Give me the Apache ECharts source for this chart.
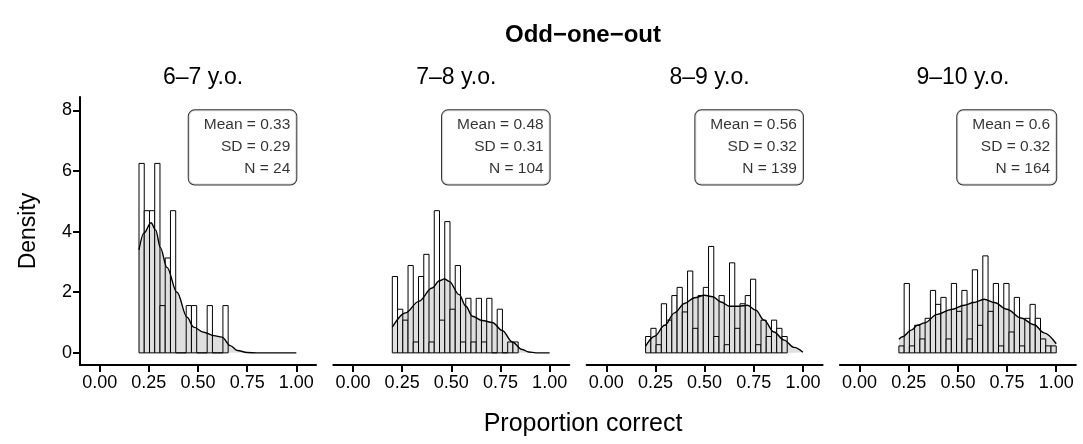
<!DOCTYPE html>
<html>
<head>
<meta charset="utf-8">
<script src="https://cdn.jsdelivr.net/npm/echarts@6/dist/echarts.min.js"></script>
<style>
  html, body { margin: 0; background: #fff; }
  #main { width: 1083px; height: 444px; }
</style>
</head>
<body>
<div id="main"></div>
<script>
// facets
var ageGroups = ['6–7 y.o.', '7–8 y.o.', '8–9 y.o.', '9–10 y.o.'];

// histogram: 30 bins of equal width starting at 0.2 (density per bin)
var binStart = 0.2;
var binWidth = 0.8 / 30;
var hist6 = [6.25, 4.69, 4.69, 6.25, 1.56, 3.13, 4.69, 0, 0, 1.56, 1.56, 0, 0, 1.56, 0, 0, 1.56];
var hist7 = [2.52, 1.44, 1.08, 2.88, 0.36, 2.52, 3.25, 0.36, 4.69, 1.08, 4.33, 1.44, 2.88, 0.36,
  1.80, 0.36, 1.80, 0.36, 1.80, 0, 1.44, 0, 0.36, 0.36];
var hist8 = [0.54, 0.81, 0.27, 1.62, 1.08, 1.89, 2.16, 1.35, 2.70, 0.81, 1.89, 2.16, 3.51, 0.54,
  1.89, 0.27, 2.97, 0.81, 1.62, 1.89, 2.43, 0.27, 1.08, 0.54, 1.08, 0.81, 0.54];
var hist9 = [0.23, 2.29, 0.23, 0.91, 0.46, 1.14, 2.06, 1.60, 1.83, 0.46, 2.29, 1.37, 2.06, 0.46,
  2.74, 0.91, 3.20, 1.37, 2.29, 0.23, 2.29, 0.69, 1.83, 0.23, 1.14, 1.60, 1.14, 0.46, 0.23, 0.23];

// kernel density curves [x, density]
var dens6 = [[0.2, 3.40], [0.225, 3.95], [0.261, 4.29], [0.285, 4.05], [0.308, 3.48], [0.342, 2.82],
  [0.393, 2.0], [0.444, 1.18], [0.478, 0.85], [0.529, 0.68], [0.58, 0.57], [0.622, 0.52],
  [0.664, 0.24], [0.70, 0.08], [0.75, 0.01], [0.8, 0], [0.9, 0], [1.0, 0]];
var dens7 = [[0.2, 0.85], [0.267, 1.32], [0.335, 1.70], [0.402, 2.14], [0.44, 2.38], [0.465, 2.44],
  [0.489, 2.36], [0.54, 1.92], [0.574, 1.54], [0.607, 1.21], [0.657, 1.07], [0.708, 1.0],
  [0.759, 0.74], [0.81, 0.36], [0.86, 0.11], [0.894, 0.03], [0.93, 0], [1.0, 0]];
var dens8 = [[0.2, 0.22], [0.246, 0.55], [0.297, 0.91], [0.347, 1.32], [0.398, 1.63], [0.449, 1.82],
  [0.499, 1.90], [0.541, 1.85], [0.583, 1.68], [0.626, 1.54], [0.676, 1.54], [0.718, 1.57],
  [0.76, 1.41], [0.802, 1.08], [0.853, 0.69], [0.904, 0.42], [0.955, 0.18], [1.0, 0.02]];
var dens9 = [[0.2, 0.45], [0.218, 0.53], [0.263, 0.75], [0.294, 0.91], [0.331, 0.99], [0.395, 1.27],
  [0.466, 1.43], [0.533, 1.57], [0.58, 1.66], [0.634, 1.77], [0.685, 1.66], [0.749, 1.44],
  [0.82, 1.15], [0.888, 0.93], [0.938, 0.66], [1.0, 0.30]];

// summary boxes
var means = ['0.33', '0.48', '0.56', '0.6'];
var sds = ['0.29', '0.31', '0.32', '0.32'];
var ns = ['24', '104', '139', '164'];

var xTicks = [0, 0.25, 0.5, 0.75, 1];
var yTicks = [0, 2, 4, 6, 8];

var hists = [hist6, hist7, hist8, hist9];
var denss = [dens6, dens7, dens8, dens9];

var FONT = 'Liberation Sans, Arial, Helvetica, sans-serif';
var myChart = echarts.init(document.getElementById('main'));

var grids = [], xAxes = [], yAxes = [], series = [];
var titles = [{
  text: 'Odd−one−out',
  left: 578, top: 18, textAlign: 'center',
  textStyle: { fontFamily: FONT, fontSize: 24, fontWeight: 'bold', color: '#000' }
}];

for (var k = 0; k < 4; k++) {
  var left = 80 + 253.3 * k;
  grids.push({ left: left, top: 97, width: 236, height: 268 });
  titles.push({
    text: ageGroups[k],
    left: left + 118, top: 61, textAlign: 'center',
    textStyle: { fontFamily: FONT, fontSize: 23, fontWeight: 'normal', color: '#000' }
  });
  xAxes.push({
    gridIndex: k, type: 'value', min: -0.1, max: 1.1,
    axisLine: { show: true, onZero: false, lineStyle: { color: '#000', width: 2 } },
    axisTick: { show: true, customValues: xTicks, length: 7, lineStyle: { color: '#000', width: 2 } },
    axisLabel: {
      customValues: xTicks, margin: 9, color: '#000', fontFamily: FONT, fontSize: 18,
      formatter: function (v) { return v.toFixed(2); }
    },
    splitLine: { show: false }
  });
  var ya = {
    gridIndex: k, type: 'value', min: -0.4, max: 8.44,
    splitLine: { show: false }
  };
  if (k === 0) {
    ya.axisLine = { show: true, onZero: false, lineStyle: { color: '#000', width: 2 } };
    ya.axisTick = { show: true, customValues: yTicks, length: 7, lineStyle: { color: '#000', width: 2 } };
    ya.axisLabel = { customValues: yTicks, margin: 8, color: '#000', fontFamily: FONT, fontSize: 18 };
    ya.name = 'Density';
    ya.nameLocation = 'middle';
    ya.nameGap = 40;
    ya.nameRotate = 90;
    ya.nameTextStyle = { fontFamily: FONT, fontSize: 23, color: '#000' };
  } else {
    ya.axisLine = { show: false };
    ya.axisTick = { show: false };
    ya.axisLabel = { show: false };
  }
  yAxes.push(ya);

  // histogram bars
  series.push({
    type: 'custom',
    xAxisIndex: k, yAxisIndex: k,
    z: 1,
    data: hists[k].map(function (d, i) {
      return [binStart + i * binWidth, binStart + (i + 1) * binWidth, d];
    }),
    encode: { x: [0, 1], y: 2 },
    renderItem: function (params, api) {
      var p0 = api.coord([api.value(0), 0]);
      var p1 = api.coord([api.value(1), api.value(2)]);
      return {
        type: 'rect',
        shape: { x: p0[0], y: p1[1], width: p1[0] - p0[0], height: p0[1] - p1[1] },
        style: { fill: '#fff', stroke: '#000', lineWidth: 1 }
      };
    }
  });

  // density curve
  series.push({
    type: 'line',
    xAxisIndex: k, yAxisIndex: k,
    z: 2,
    data: denss[k],
    smooth: 0.35,
    smoothMonotone: 'x',
    symbol: 'none',
    lineStyle: { color: '#000', width: 1.4 },
    areaStyle: { color: 'rgba(0,0,0,0.18)', origin: 0 }
  });

  // summary label
  series.push({
    type: 'scatter',
    xAxisIndex: k, yAxisIndex: k,
    z: 3,
    symbolSize: 0,
    data: [[1.0, 8]],
    label: {
      show: true,
      position: [0, 0],
      align: 'right',
      verticalAlign: 'top',
      formatter: 'Mean = ' + means[k] + '\nSD = ' + sds[k] + '\nN = ' + ns[k],
      fontFamily: FONT, fontSize: 15.5, color: '#000',
      lineHeight: 21.7,
      backgroundColor: '#fff',
      borderColor: '#000', borderWidth: 1, borderRadius: 6,
      padding: [4, 6, 5, 15]
    }
  });
}

titles.push({
  text: 'Proportion correct',
  left: 578, top: 407, textAlign: 'center',
  textStyle: { fontFamily: FONT, fontSize: 25, fontWeight: 'normal', color: '#000' }
});

var option = {
  animation: false,
  backgroundColor: '#fff',
  title: titles,
  grid: grids,
  xAxis: xAxes,
  yAxis: yAxes,
  series: series
};
myChart.setOption(option);
</script>
</body>
</html>
